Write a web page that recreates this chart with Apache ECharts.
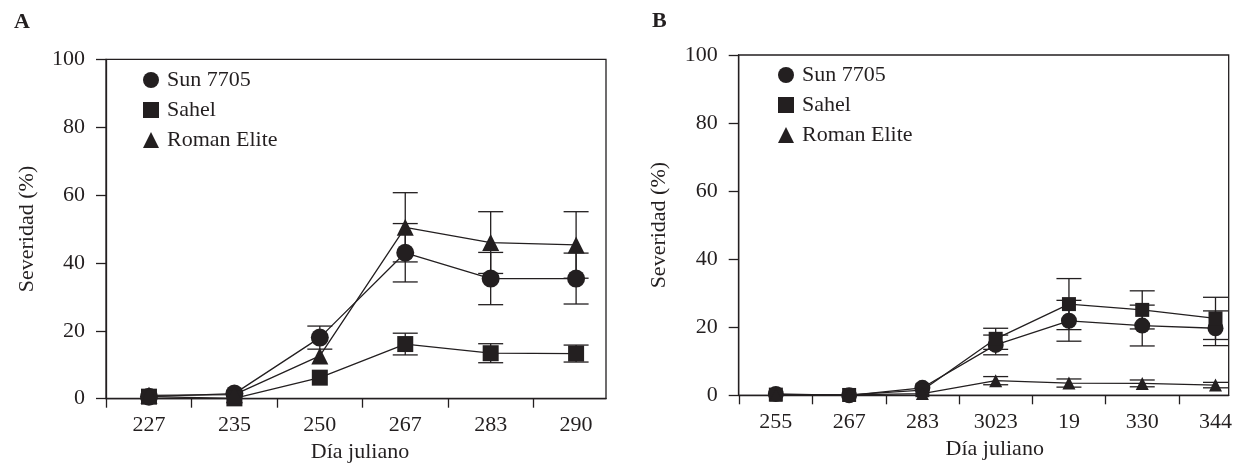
<!DOCTYPE html>
<html>
<head>
<meta charset="utf-8">
<script src="https://cdn.jsdelivr.net/npm/echarts@6/dist/echarts.min.js"></script>
<style>html,body{margin:0;padding:0;background:#fff}#c{width:1235px;height:474px}</style>
</head>
<body>
<div id="c"></div>
<script>
// ---- data ----
const catsA = ['227','235','250','267','283','290'];
const sunA = [0.6, 1.5, 18, 43, 35.4, 35.4];
const sunErrA = [0, 0, 3.4, 8.6, 7.7, 7.5];
const sahelA = [0.6, 0.1, 6.2, 16.1, 13.4, 13.3];
const sahelErrA = [0, 0, 0, 3.2, 2.8, 2.5];
const romanA = [1.0, 1.2, 12.6, 50.5, 46, 45.3];
const romanErrA = [0, 0, 0, 10.2, 9.1, 9.8];

const catsB = ['255','267','283','3023','19','330','344'];
const sunB = [0.4, 0.0, 2.2, 14.8, 21.9, 20.5, 19.7];
const sunErrB = [0, 0, 0, 2.9, 6.0, 6.0, 5.1];
const sahelB = [0.2, 0.1, 1.5, 16.6, 26.8, 25.1, 22.6];
const sahelErrB = [0, 0, 0, 3.1, 7.5, 5.6, 6.2];
const romanB = [0.1, 0.1, 0.5, 4.3, 3.6, 3.5, 3.0];
const romanErrB = [0, 0, 0, 1.2, 1.2, 1.0, 0.8];

const yTicks = [0, 20, 40, 60, 80, 100];
const seriesNames = ['Sun 7705', 'Sahel', 'Roman Elite'];
const panelLetters = ['A', 'B'];
const xTitle = 'Día juliano';
const yTitle = 'Severidad (%)';

// ---- styling ----
const INK = '#231f20';
const FONT = '"Liberation Serif", "DejaVu Serif", serif';
const FS = 22;

const chart = echarts.init(document.getElementById('c'), null, {renderer: 'canvas'});

function pts(vals) { return vals.map((v, i) => [i, v]); }
function errData(vals, errs) {
  const out = [];
  vals.forEach((v, i) => { if (errs[i] > 0) out.push([i, v - errs[i], v + errs[i]]); });
  return out;
}
function errSeries(vals, errs, gi) {
  return {
    type: 'custom', xAxisIndex: gi, yAxisIndex: gi, z: 1, silent: true,
    encode: {x: 0, y: [1, 2]},
    data: errData(vals, errs),
    renderItem: function (params, api) {
      const x = api.value(0), lo = api.value(1), hi = api.value(2);
      const a = api.coord([x, hi]), b = api.coord([x, lo]);
      const w = 12.5;
      const st = {stroke: INK, lineWidth: 1.3};
      return {type: 'group', children: [
        {type: 'line', shape: {x1: a[0], y1: a[1], x2: b[0], y2: b[1]}, style: st},
        {type: 'line', shape: {x1: a[0] - w, y1: a[1], x2: a[0] + w, y2: a[1]}, style: st},
        {type: 'line', shape: {x1: b[0] - w, y1: b[1], x2: b[0] + w, y2: b[1]}, style: st}
      ]};
    }
  };
}
function lineSeries(name, vals, symbol, size, gi) {
  return {
    type: 'line', name: name, xAxisIndex: gi, yAxisIndex: gi, z: 3,
    data: pts(vals), symbol: symbol, symbolSize: size, showSymbol: true,
    itemStyle: {color: INK, borderWidth: 0},
    lineStyle: {color: INK, width: 1.3},
    emphasis: {disabled: true}
  };
}
function xAxis(cats, gi, min, max, gap, shift) {
  const ticks = [];
  for (let i = 0; i < cats.length - 1; i++) ticks.push(i - 0.5);
  ticks.push(cats.length - 1.5);
  return {
    type: 'value', gridIndex: gi, min: min, max: max,
    name: xTitle, nameLocation: 'middle', nameGap: gap,
    nameTextStyle: {color: INK, fontFamily: FONT, fontSize: FS, padding: [0, 0, 0, shift]},
    axisLine: {show: true, onZero: false, lineStyle: {color: INK, width: 1.3}},
    axisTick: {show: true, inside: false, length: 9, lineStyle: {color: INK, width: 1.3},
      customValues: ticks},
    axisLabel: {show: true, color: INK, fontFamily: FONT, fontSize: FS, margin: 16,
      customValues: cats.map((c, i) => i),
      formatter: v => cats[Math.round(v)]},
    splitLine: {show: false}
  };
}
function yAxis(gi) {
  return {
    type: 'value', gridIndex: gi, min: 0, max: 100, interval: 20,
    name: yTitle, nameLocation: 'middle', nameGap: 68,
    nameTextStyle: {color: INK, fontFamily: FONT, fontSize: FS},
    axisLine: {show: true, onZero: false, lineStyle: {color: INK, width: 1.3}},
    axisTick: {show: true, inside: false, length: 10, lineStyle: {color: INK, width: 1.3}},
    axisLabel: {color: INK, fontFamily: FONT, fontSize: FS, margin: 21,
      formatter: v => (yTicks.indexOf(v) >= 0 ? String(v) : '')},
    splitLine: {show: false}
  };
}
function legend(left, top) {
  return {
    orient: 'vertical', left: left, top: top, itemGap: 8,
    itemWidth: 16, itemHeight: 16, selectedMode: false,
    data: [
      {name: seriesNames[0], icon: 'circle'},
      {name: seriesNames[1], icon: 'rect'},
      {name: seriesNames[2], icon: 'triangle'}
    ],
    textStyle: {color: INK, fontFamily: FONT, fontSize: FS, padding: [0, 0, 0, 3]}
  };
}

const option = {
  animation: false,
  backgroundColor: '#fff',
  grid: [
    {left: 106, top: 59.3, width: 500, height: 339.4, show: true, borderColor: INK, borderWidth: 1.3, containLabel: false},
    {left: 738.7, top: 55, width: 494.8, height: 340.3, show: true, borderColor: INK, borderWidth: 1.3, containLabel: false}
  ],
  xAxis: [xAxis(catsA, 0, -0.503, 5.35, 35, 8), xAxis(catsB, 1, -0.507, 6.18, 34, 22)],
  yAxis: [yAxis(0), yAxis(1)],
  legend: [legend(138, 64), legend(773, 59)],
  graphic: [
    {type: 'text', left: 14, top: 11, style: {text: panelLetters[0], fill: INK, font: 'bold 22px ' + FONT}},
    {type: 'text', left: 652, top: 10, style: {text: panelLetters[1], fill: INK, font: 'bold 22px ' + FONT}}
  ],
  series: [
    errSeries(sunA, sunErrA, 0), errSeries(sahelA, sahelErrA, 0), errSeries(romanA, romanErrA, 0),
    lineSeries(seriesNames[0], sunA, 'circle', 18, 0),
    lineSeries(seriesNames[1], sahelA, 'rect', 16, 0),
    lineSeries(seriesNames[2], romanA, 'triangle', 17, 0),
    errSeries(sunB, sunErrB, 1), errSeries(sahelB, sahelErrB, 1), errSeries(romanB, romanErrB, 1),
    lineSeries(seriesNames[0], sunB, 'circle', 16, 1),
    lineSeries(seriesNames[1], sahelB, 'rect', 14, 1),
    lineSeries(seriesNames[2], romanB, 'triangle', 13, 1)
  ]
};
chart.setOption(option);
</script>
</body>
</html>
